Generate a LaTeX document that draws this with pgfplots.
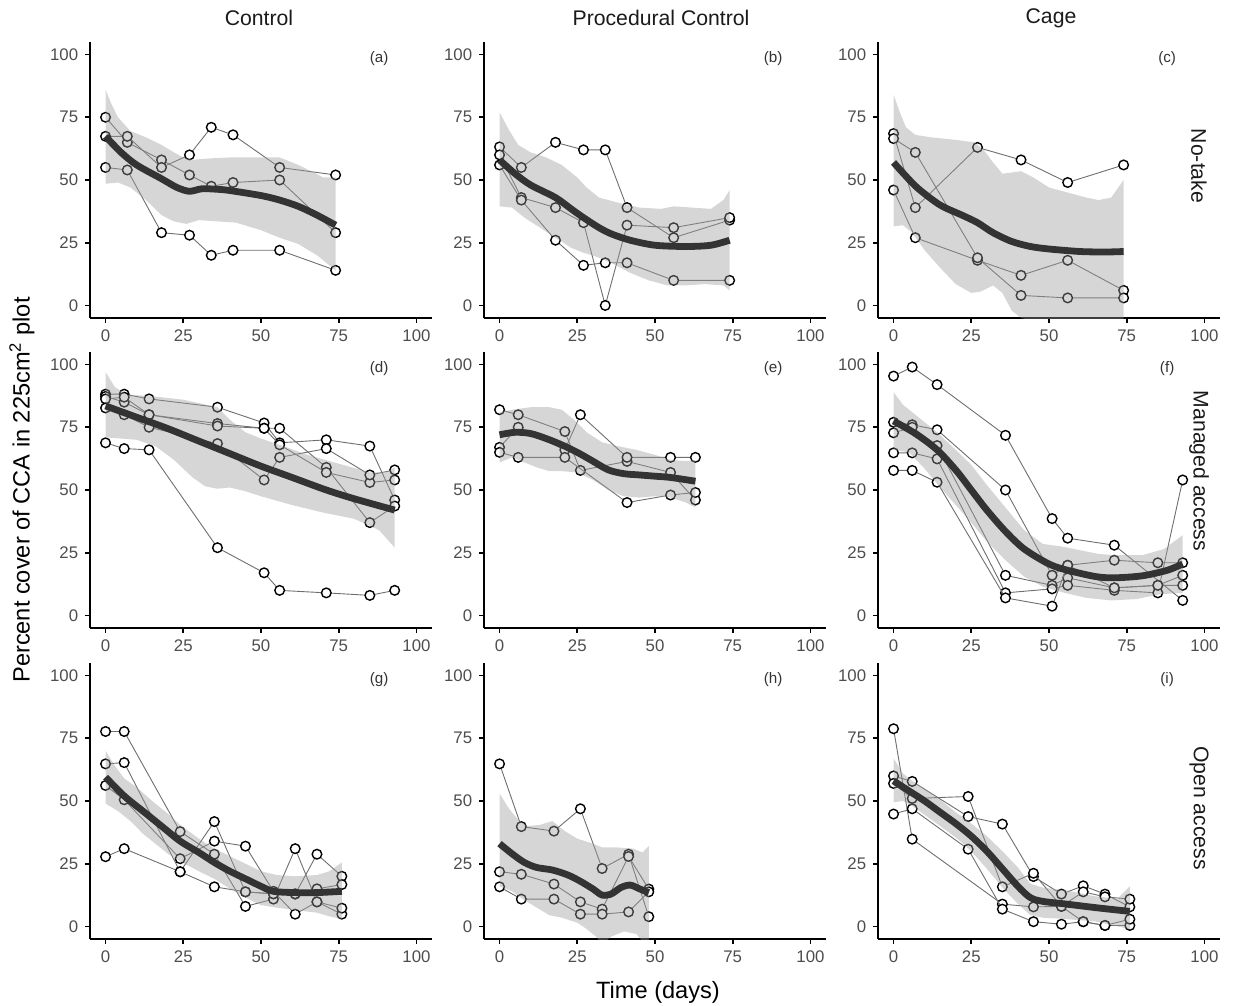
\documentclass[border=0pt]{standalone}
\usepackage{pgfplots}
\pgfplotsset{compat=1.18}
\usepackage{fontspec}
\setmainfont{Liberation Sans}
\definecolor{tickgray}{HTML}{4D4D4D}
\definecolor{linegray}{HTML}{6E6E6E}
\definecolor{smoothcol}{HTML}{333333}
\definecolor{ribgray}{HTML}{999999}
\definecolor{stripcol}{HTML}{1A1A1A}
\pgfplotsset{
 facet/.style={
  scale only axis, width=171pt, height=138pt,
  xmin=-5, xmax=105, ymin=-5, ymax=105,
  axis lines=left,
  axis line style={black, line width=0.8pt, -},
  xtick={0,25,50,75,100}, ytick={0,25,50,75,100},
  tick style={black, line width=0.8pt},
  tick align=outside, major tick length=2.4pt,
  ticklabel style={font=\fontsize{8.4}{9}\selectfont, text=tickgray},
  /pgf/number format/assume math mode=true,
  clip=true, clip mode=individual,
 },
 sline/.style={linegray, line width=0.45pt, mark=*, mark size=2.4pt,
   mark options={fill=white, draw=black, line width=0.7pt}},
 smline/.style={smoothcol, line width=3.4pt, smooth, tension=0.5},
 ribfill/.style={fill=ribgray, fill opacity=0.4, draw=none, mark=none, forget plot},
}
\tikzset{plab/.style={font=\fontsize{7.6}{9}\selectfont, text=smoothcol}}
\newcommand{\lab}[1]{\node[plab] at (axis cs:88,98.5) {#1};}
\begin{document}
\begin{tikzpicture}
% strip labels
\node[font=\fontsize{10.6}{12}\selectfont, text=stripcol] at (129.5pt,-9pt) {Control};
\node[font=\fontsize{10.6}{12}\selectfont, text=stripcol] at (330.5pt,-9pt) {Procedural Control};
\node[font=\fontsize{10.6}{12}\selectfont, text=stripcol] at (525.5pt,-9pt) {Cage};
\node[font=\fontsize{10.6}{12}\selectfont, text=stripcol, rotate=-90] at (599.5pt,-83pt) {No-take};
\node[font=\fontsize{10.6}{12}\selectfont, text=stripcol, rotate=-90] at (599.5pt,-235.5pt) {Managed access};
\node[font=\fontsize{10.6}{12}\selectfont, text=stripcol, rotate=-90] at (599.5pt,-404pt) {Open access};
\node[font=\fontsize{11.8}{13}\selectfont, rotate=90] at (11pt,-245pt) {Percent cover of CCA in 225cm\textsuperscript{2} plot};
\node[font=\fontsize{11.8}{13}\selectfont] at (329pt,-496pt) {Time (days)};

% (a)
\begin{axis}[facet, at={(45pt,-21pt)}, anchor=north west]
\addplot[sline] coordinates {(0,75)(7,65)(18,58)(27,52)(34,47.5)(41,49)(56,50)(74,29)};
\addplot[sline] coordinates {(0,67.4)(7,67.4)(18,55)(27,60)(34,71)(41,68)(56,55)(74,52)};
\addplot[sline] coordinates {(0,55)(7,54)(18,29)(27,28)(34,20)(41,22)(56,22)(74,14)};
\addplot[ribfill] coordinates {(0,86)(2,80)(4,75)(8,69.5)(13,67)(18,64)(22,61)(25,59)(28,58)(32,58.5)(40,59)(50,59)(56,59)(62,56)(67,53)(70,51)(74,51)
 (74,14)(68,20)(62,24.5)(56,27)(50,30)(42,33)(36,33.5)(30,34)(26,32.5)(22,33.5)(18,36)(13,42)(8,47)(4,49)(0,48.5)} -- cycle;
\addplot[smline] coordinates {(0,67.4)(5,61)(10,56)(18,50.5)(23,47)(27,45.5)(31,46.5)(36,46.3)(40,45.8)(50,43.8)(56,42)(62,39.5)(68,36)(74,32)};
\lab{(a)}
\end{axis}

% (b)
\begin{axis}[facet, at={(242pt,-21pt)}, anchor=north west]
\addplot[sline] coordinates {(0,63.2)(7,55)(18,65)(27,62)(34,62)(41,39)(56,27)(74,34)};
\addplot[sline] coordinates {(0,60)(7,43)(18,39)(27,33)(34,0)(41,32)(56,31)(74,35)};
\addplot[sline] coordinates {(0,56)(7,42)(18,26)(27,16)(34,17)(41,17)(56,10)(74,10)};
\addplot[ribfill] coordinates {(0,77)(3,70)(6,64)(10,61)(15,59)(20,56)(25,51)(28,47)(32,43)(38,41)(45,39)(52,38.5)(56,39.5)(62,39)(68,38.5)(72,42)(74,46)
 (74,6)(72,8)(66,8.5)(60,8)(54,8)(48,10)(42,13)(36,17)(31,19.5)(27,21)(23,23)(18,27)(13,31)(8,35)(4,39)(0,39.5)} -- cycle;
\addplot[smline] coordinates {(0,58)(5,52.5)(10,48)(18,43)(23,38.5)(27,35)(32,31)(36,28.5)(42,26)(50,24)(60,23.5)(68,24)(74,26)};
\lab{(b)}
\end{axis}

% (c)
\begin{axis}[facet, at={(439pt,-21pt)}, anchor=north west]
\addplot[sline] coordinates {(0,46)(7,27)(27,18)(41,12)(56,18)(74,6)};
\addplot[sline] coordinates {(0,68.5)(7,39)(27,63)(41,58)(56,49)(74,56)};
\addplot[sline] coordinates {(0,66.5)(7,61)(27,19)(41,4)(56,3)(74,3)};
\addplot[ribfill] coordinates {(0,84)(2,77)(4,71)(7,68)(12,67)(20,66)(26,65)(29,62)(32,57)(35,52.5)(38,53)(41,53.5)(45,51)(50,47)(56,45)(62,43)(66,42)(70,43)(74,50)
 (74,-8)(65,-8)(55,-7)(45,-6)(41,-5)(38,-2)(35,5)(32,8)(28,5.5)(25,5)(20,8.5)(15,15)(10,22)(6,29)(3,32)(0,31.5)} -- cycle;
\addplot[smline] coordinates {(0,57)(4,51.5)(8,46.5)(15,40)(22,36)(27,33)(32,29)(38,25.5)(44,23.5)(50,22.5)(60,21.5)(68,21.3)(74,21.5)};
\lab{(c)}
\end{axis}

% (d)
\begin{axis}[facet, at={(45pt,-176pt)}, anchor=north west]
\addplot[sline] coordinates {(0,88.2)(6,88.2)(14,86.3)(36,83)(51,76.7)(56,68.8)(71,70)(85,67.5)(93,46)};
\addplot[sline] coordinates {(0,87.3)(6,85)(14,80)(36,76.5)(51,74.6)(56,74.6)(71,59)(85,37)(93,43.6)};
\addplot[sline] coordinates {(0,86.3)(6,87)(14,80)(36,75.5)(51,74.6)(56,68)(71,57)(85,53)(93,54)};
\addplot[sline] coordinates {(0,82.7)(6,80)(14,75)(36,68.5)(51,54)(56,63)(71,66.5)(85,56)(93,58)};
\addplot[sline] coordinates {(0,68.8)(6,66.5)(14,66)(36,27)(51,17)(56,10)(71,9)(85,8)(93,10)};
\addplot[ribfill] coordinates {(0,97)(3,91)(7,88)(14,87.5)(25,86)(36,83)(40,78)(45,73)(50,70.5)(56,68)(65,64)(75,60.5)(85,57)(90,57)(93,59)
 (93,27)(88,34)(80,38.5)(70,41)(60,44)(50,47.5)(45,49.5)(40,51)(36,50.5)(32,51.5)(28,55)(22,62)(16,67.5)(10,70)(5,70.5)(0,71)} -- cycle;
\addplot[smline] coordinates {(0,83.5)(10,79)(20,74.5)(30,69.5)(40,64.5)(50,59.5)(60,55)(71,50)(80,46.5)(93,42)};
\lab{(d)}
\end{axis}

% (e)
\begin{axis}[facet, at={(242pt,-176pt)}, anchor=north west]
\addplot[sline] coordinates {(0,82)(6,80)(21,73.3)(26,57.8)(41,61.4)(55,57)(63,46)};
\addplot[sline] coordinates {(0,67)(6,75)(21,66)(26,80)(41,63)(55,63)(63,63)};
\addplot[sline] coordinates {(0,65)(6,63)(21,63)(41,45)(55,48)(63,49)};
\addplot[ribfill] coordinates {(0,81)(4,82)(10,83)(16,83)(20,82)(24,78)(28,73)(33,69)(38,67.5)(44,66)(50,64)(55,62)(60,61.5)(63,62)
 (63,43)(60,45)(55,47)(50,47.5)(45,47)(40,47.5)(35,50)(30,54)(25,57)(20,57.5)(16,57.5)(12,59)(8,61)(4,63)(0,61)} -- cycle;
\addplot[smline] coordinates {(0,72)(5,73)(10,72.5)(15,70.5)(20,68)(25,65)(30,61.5)(35,58)(40,56.5)(45,56)(50,55.5)(55,55)(63,53.5)};
\lab{(e)}
\end{axis}

% (f)
\begin{axis}[facet, at={(439pt,-176pt)}, anchor=north west]
\addplot[sline] coordinates {(0,95.4)(6,99)(14,92)(36,71.8)(51,38.6)(56,30.8)(71,28)(93,6)};
\addplot[sline] coordinates {(0,77)(6,76)(14,74)(36,50)(51,16)(56,20)(71,22)(85,21)(93,21)};
\addplot[sline] coordinates {(0,72.8)(6,75)(14,67.7)(36,16)(51,12)(56,15)(71,11)(85,12)(93,16)};
\addplot[sline] coordinates {(0,64.8)(6,64.8)(14,62.4)(36,9)(51,10.6)(56,12)(71,10)(85,9)(93,54)};
\addplot[sline] coordinates {(0,57.8)(6,57.8)(14,53.1)(36,7)(51,3.7)(56,20)(71,11)(85,12)(93,12)};
\addplot[ribfill] coordinates {(0,89)(3,84)(8,79)(14,73)(20,66)(25,60)(30,52)(36,43)(42,34)(48,28.5)(54,27.5)(60,26)(66,24.5)(72,24)(80,24)(87,26.5)(93,32)
 (93,9)(86,8.5)(78,6.5)(70,6)(62,7)(55,9)(48,11.5)(42,15.5)(36,22)(30,29.5)(25,37)(20,44)(15,51)(10,58.5)(5,65)(0,66)} -- cycle;
\addplot[smline] coordinates {(0,77.5)(7,72.5)(14,66)(20,58)(25,50)(30,42)(36,33.5)(42,26.5)(50,20.5)(56,18)(65,15.5)(71,15)(80,15.8)(88,18)(93,20.5)};
\lab{(f)}
\end{axis}

% (g)
\begin{axis}[facet, at={(45pt,-331.5pt)}, anchor=north west]
\addplot[sline] coordinates {(0,77.7)(6,77.7)(24,37.8)(35,28.8)(45,8)(54,10.9)(61,31)(68,9.8)(76,4.9)};
\addplot[sline] coordinates {(0,64.8)(6,65.3)(24,21.8)(35,41.8)(45,13.8)(54,13)(61,12.9)(68,28.8)(76,20)};
\addplot[sline] coordinates {(0,56.2)(6,50.5)(24,27)(35,34)(45,32)(54,14)(61,4.9)(68,9.8)(76,7.3)};
\addplot[sline] coordinates {(0,27.8)(6,31)(24,21.8)(35,15.8)(45,13.8)(54,13)(61,13)(68,15)(76,16.7)};
\addplot[ribfill] coordinates {(0,70)(3,64)(6,59)(10,55.5)(15,50)(20,45)(24,40.5)(30,35)(35,31)(40,28)(45,25)(50,22)(55,20.5)(61,20)(68,20.5)(72,22)(76,25.5)
 (76,3)(72,4)(68,5.5)(61,6.5)(55,7.5)(50,8.5)(45,11.5)(40,15)(35,19)(30,22)(24,26)(20,29)(16,33)(12,37)(8,42)(4,46)(0,49)} -- cycle;
\addplot[smline] coordinates {(0,59.5)(6,52)(12,46)(18,40)(24,34)(30,29.5)(35,25.5)(40,22)(45,19)(50,16)(54,14)(61,13.5)(68,13.5)(76,14)};
\lab{(g)}
\end{axis}

% (h)
\begin{axis}[facet, at={(242pt,-331.5pt)}, anchor=north west]
\addplot[sline] coordinates {(0,64.8)(7,39.8)(17.5,38)(26,46.9)(33,23.1)(41.5,28.8)(48,3.9)};
\addplot[sline] coordinates {(0,21.8)(7,20.8)(17.5,16.9)(26,9.8)(33,6.9)(41.5,27.9)(48,14.9)};
\addplot[sline] coordinates {(0,15.8)(7,10.9)(17.5,10.9)(26,4.9)(33,4.9)(41.5,5.8)(48,13.8)};
\addplot[ribfill] coordinates {(0,53)(3,47)(6,42.5)(9,40)(13,40.5)(17,42)(21,38)(25,35)(30,33)(33,31.5)(38,31.5)(43,31)(46,29.5)(48,32)
 (48,-9)(44,-3)(40,-2)(36,-4)(33,-7)(31,-4)(28,-1)(25,1.5)(20,3.5)(16,4.5)(12,7.5)(8,10.5)(4,14)(0,16)} -- cycle;
\addplot[smline] coordinates {(0,33)(4,29)(8,25.5)(12,23.5)(17,22.5)(22,20.5)(26,18)(30,15)(33,12.5)(36,13)(39,15.5)(42,16.5)(45,15)(48,13.5)};
\lab{(h)}
\end{axis}

% (i)
\begin{axis}[facet, at={(439pt,-331.5pt)}, anchor=north west]
\addplot[sline] coordinates {(0,78.8)(6,34.8)(35,8.9)(45,7.8)(54,8)(61,1.9)(68,0.4)(76,0.4)};
\addplot[sline] coordinates {(0,60)(6,57.8)(24,43.8)(35,40.8)(45,19.9)(54,12.9)(61,16.2)(68,12.9)(76,7.8)};
\addplot[sline] coordinates {(0,44.8)(6,46.9)(24,30.8)(35,6.9)(45,1.9)(54,0.9)(61,1.9)(68,0.4)(76,2.9)};
\addplot[sline] coordinates {(0,57)(6,51)(24,51.8)(35,15.8)(45,21.2)(54,8)(61,13.8)(68,11.8)(76,10.9)};
\addplot[ribfill] coordinates {(0,67)(3,61)(6,58)(10,55)(15,50.5)(20,45.5)(25,41)(30,36)(35,30)(40,23.5)(44,17)(48,15.5)(55,14.5)(65,12)(72,11)(76,16)
 (76,-1)(72,0)(65,2)(55,3)(48,3.5)(44,4.5)(40,9)(35,15.5)(30,23)(25,30)(20,35.5)(15,40)(10,44.5)(6,48)(3,50)(0,49.5)} -- cycle;
\addplot[smline] coordinates {(0,58)(5,54)(10,50)(15,45.5)(20,41)(25,36)(30,30)(35,23)(40,16)(44,11.5)(48,10)(55,9)(65,7.5)(76,6)};
\lab{(i)}
\end{axis}
\pgfresetboundingbox
\path[use as bounding box] (0,0) rectangle (629pt,-503pt);
\end{tikzpicture}
\end{document}
